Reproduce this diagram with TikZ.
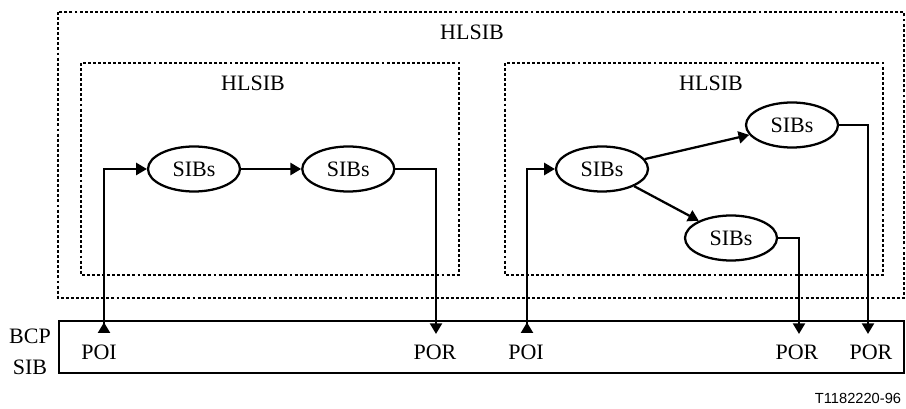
\documentclass[tikz,border=0pt]{standalone}
\usepackage{fontspec}
\setmainfont{Liberation Serif}
\newfontfamily\figfont{Liberation Sans}
\usetikzlibrary{positioning, arrows.meta, shapes.geometric}
\tikzset{
    sib/.style={ellipse, draw, line width=1.7pt, minimum width=69pt, minimum height=33.75pt, inner sep=0pt}, % the SIBs ellipses
    hlsib/.style={draw, line width=2.2pt, dash pattern=on 2.2pt off 1.6pt}, % dotted HLSIB frames
    bcpbox/.style={draw, line width=1.2pt}, % the BCP SIB strip
}
\tikzstyle{arrow} = [line width=1.7pt, -{Triangle[width=9pt,length=8pt]}]
\tikzstyle{point} = [line width=1.7pt, {Triangle[reversed,width=9pt,length=8pt]}-{Triangle[width=9pt,length=8pt]}]

\begin{document}
\begin{tikzpicture}[x=0.75pt, y=-0.75pt, font=\fontsize{16.5}{19}\selectfont]
    \useasboundingbox (0,0) rectangle (906,409);

    % HLSIB frames
    \draw[hlsib] (58,12) rectangle (904,298);
    \draw[hlsib] (81,63) rectangle (459,275);
    \draw[hlsib] (505,63) rectangle (883,275);
    \node (hl) at (472,32) {HLSIB};
    \node (hla) at (253,83) {HLSIB};
    \node (hlb) at (711,83) {HLSIB};

    % BCP SIB
    \draw[bcpbox] (59,321) rectangle (904,373);
    \node[align=center, inner sep=0pt] (bcp) at (30,352) {BCP\\[4pt]SIB};
    \node (poi1) at (99,352) {POI};
    \node (por1) at (435,352) {POR};
    \node (poi2) at (526,352) {POI};
    \node (por2) at (797,352) {POR};
    \node (por3) at (871,352) {POR};

    % SIBs
    \node[sib] (s1) at (194,169) {SIBs};
    \node[sib] (s2) [right=45pt of s1] {SIBs};
    \node[sib] (sa) at (602,169) {SIBs};
    \node[sib] (sb) at (792,125) {SIBs};
    \node[sib] (sc) at (731,238) {SIBs};

    % Ends on the BCP
    \coordinate (i1) at (104,333);
    \coordinate (r1) at (436,334);
    \coordinate (i2) at (527,333);
    \coordinate (r2) at (799,334);
    \coordinate (r3) at (868,334);

    % Flows
    \draw[point] (i1) |- (s1);
    \draw[arrow] (s1) -- (s2);
    \draw[arrow] (s2) -| (r1);
    \draw[point] (i2) |- (sa);
    \draw[arrow] (sa) -- (sb);
    \draw[arrow] (sa) -- (sc);
    \draw[arrow] (sb) -| (r3);
    \draw[arrow] (sc) -| (r2);

    \node[font=\figfont\fontsize{11}{13}\selectfont] (fig) at (858,398) {T1182220-96};
\end{tikzpicture}
\end{document}
